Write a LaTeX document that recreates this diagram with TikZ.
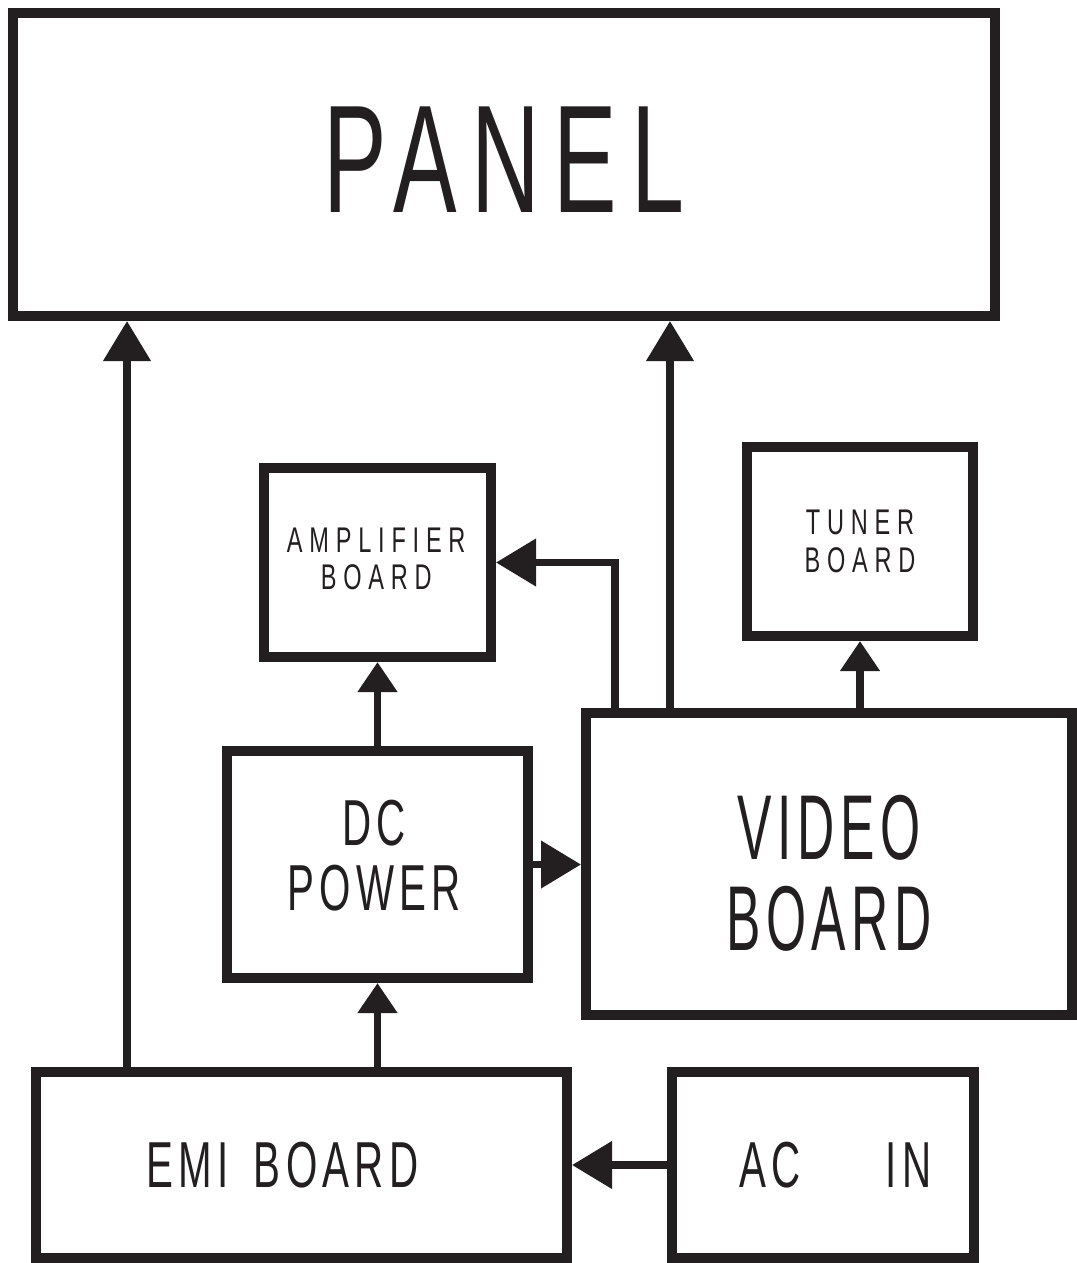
\documentclass[tikz,border=0pt]{standalone}
\usepackage{fontspec}
\usetikzlibrary{arrows.meta}
\newfontfamily\boardfont[FakeStretch=0.62]{Liberation Sans}
\newfontfamily\narrowfont[FakeStretch=0.56]{Liberation Sans}
\newfontfamily\tinyfont[FakeStretch=0.66]{Liberation Sans}
\definecolor{ink}{RGB}{35,31,32}

\begin{document}
\begin{tikzpicture}[x=0.2mm, y=-0.2mm,
		board/.style={draw=ink, line width=2mm, inner sep=0pt},
		wire/.style={draw=ink, line width=1.5mm},
		bigtip/.style={wire, -{Triangle[length=8mm, width=9.2mm]}},
		smalltip/.style={wire, -{Triangle[length=6mm, width=7.6mm]}},
		hugetext/.style={text=ink, align=center, font=\boardfont\fontsize{87.4}{90}\selectfont\addfontfeature{LetterSpace=9}},
		bigtext/.style={text=ink, align=center, font=\narrowfont\fontsize{52.4}{51.8}\selectfont\addfontfeature{LetterSpace=6}},
		midtext/.style={text=ink, align=center, font=\boardfont\fontsize{37}{37}\selectfont\addfontfeature{LetterSpace=8}},
		smalltext/.style={text=ink, align=center, font=\tinyfont\fontsize{20.3}{21.3}\selectfont\addfontfeature{LetterSpace=19}}
	]
	
	\useasboundingbox (0,0) rectangle (1077,1263);
	
	% boards
	\node[board, minimum width=196.4mm, minimum height=60.6mm,
		label={[hugetext, yshift=0.9mm]center:PANEL}] (panel) at (504,164.5) {};
	\node[board, minimum width=45.5mm, minimum height=37.8mm,
		label={[smalltext, xshift=-0.2mm, yshift=0.7mm]center:{AMPLIFIER\\BOARD}}] (amp) at (377.25,562.5) {};
	\node[board, minimum width=45.2mm, minimum height=37.8mm,
		label={[smalltext]center:{TUNER\\BOARD}}] (tuner) at (860,541.5) {};
	\node[board, minimum width=60.2mm, minimum height=45.4mm,
		label={[midtext, xshift=-0.7mm, yshift=1.7mm]center:{DC\\POWER}}] (dc) at (377.5,864.5) {};
	\node[board, minimum width=97.2mm, minimum height=60.4mm,
		label={[bigtext, yshift=-1.9mm]center:{VIDEO\\BOARD}}] (video) at (829,864) {};
	\node[board, minimum width=106.2mm, minimum height=37.2mm,
		label={[midtext, xshift=-3.8mm]center:EMI\hspace{5mm}BOARD}] (emi) at (301.5,1165) {};
	\node[board, minimum width=60.4mm, minimum height=37.2mm,
		label={[midtext, xshift=2.5mm]center:AC\hspace{17mm}IN}] (acin) at (823,1165) {};
	
	% taps
	\coordinate (xl) at (127,0);
	\coordinate (xv) at (670,0);
	\coordinate (xa) at (615,0);
	
	% connectors
	\draw[bigtip] (xl |- emi.north) -- (xl |- panel.south);
	\draw[smalltip] (dc.south |- emi.north) -- (dc.south);
	\draw[smalltip] (dc.north) -- (dc.north |- amp.south);
	\draw[bigtip] (dc.east) -- (video.west |- dc.east);
	\draw[bigtip] (xv |- video.north) -- (xv |- panel.south);
	\draw[bigtip] (xa |- video.north) |- (amp.east);
	\draw[smalltip] (tuner.south |- video.north) -- (tuner.south);
	\draw[bigtip] (acin.west) -- (emi.east |- acin.west);
\end{tikzpicture}
\end{document}
